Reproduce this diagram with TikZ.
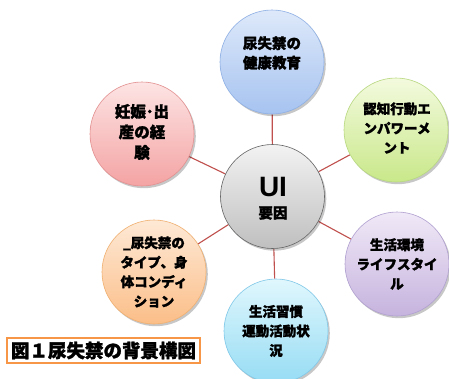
\documentclass[tikz,border=0pt]{standalone}
\usepackage{fontspec}
\setmainfont{Noto Sans CJK JP}[BoldFeatures={FakeBold=1.6}]
\newfontfamily\uifont{Liberation Sans}
\usetikzlibrary{shadows,backgrounds}
\definecolor{linkred}{HTML}{C0504D}
\definecolor{capor}{HTML}{F79646}
\begin{document}
\begin{tikzpicture}[x=1pt,y=-1pt,
  bubble/.style={circle,minimum size=104pt,inner sep=0pt,line width=0.6pt,
    drop shadow={shadow xshift=1.8pt,shadow yshift=-2.2pt,fill=black,opacity=0.22}},
  btext/.style={font=\fontsize{13.5}{19.5}\selectfont\bfseries,align=center,text=black,inner sep=0pt},
  link/.style={draw=linkred,line width=1.1pt}]
\useasboundingbox (0,0) rectangle (449,378);
% circles
\node[bubble,top color=white!60!gray!25,bottom color=black!25,draw=black!60] (c) at (272.5,196.5) {};
\node[bubble,top color={rgb,255:red,222;green,233;blue,250},bottom color={rgb,255:red,166;green,195;blue,240},draw={rgb,255:red,143;green,176;blue,228}] (top) at (272,62) {};
\node[bubble,top color={rgb,255:red,243;green,250;blue,222},bottom color={rgb,255:red,201;green,232;blue,138},draw={rgb,255:red,184;green,216;blue,128}] (rt) at (396,130) {};
\node[bubble,top color={rgb,255:red,253;green,228;blue,228},bottom color={rgb,255:red,244;green,163;blue,163},draw={rgb,255:red,227;green,144;blue,144}] (lt) at (142,134) {};
\node[bubble,top color={rgb,255:red,254;green,233;blue,214},bottom color={rgb,255:red,251;green,190;blue,136},draw={rgb,255:red,240;green,176;blue,112}] (lb) at (154,272) {};
\node[bubble,top color={rgb,255:red,240;green,233;blue,247},bottom color={rgb,255:red,198;green,179;blue,222},draw={rgb,255:red,176;green,160;blue,208}] (rb) at (397,264) {};
\node[bubble,top color={rgb,255:red,224;green,247;blue,253},bottom color={rgb,255:red,150;green,220;blue,244},draw={rgb,255:red,128;green,200;blue,232}] (bt) at (276,331) {};
% connectors
\begin{scope}[on background layer]
  \fill[white] (0,0) rectangle (449,378);
  \draw[link] (top) -- (c);
  \draw[link] (rt) -- (c);
  \draw[link] (lt) -- (c);
  \draw[link] (lb) -- (c);
  \draw[link] (rb) -- (c);
  \draw[link] (bt) -- (c);
\end{scope}
% texts
\node[btext,font=\fontsize{14.5}{19.5}\selectfont\bfseries] (ttop) at (272,53) {尿失禁の\\健康教育};
\node[btext] (trt) at (397,128) {認知行動エ\\ンパワーメ\\ント};
\node[btext,font=\fontsize{15.5}{20.5}\selectfont\bfseries] (tlt) at (142,132) {妊娠･出\\産の経\\験};
\node[btext] (tlb) at (154,272) {\_尿失禁の\\タイプ、身\\体コンディ\\ション};
\node[btext] (trb) at (397,264) {生活環境\\ライフスタイ\\ル};
\node[btext] (tbt) at (276,331) {生活習慣\\運動活動状\\況};
\node[inner sep=0pt,font=\uifont\bfseries\fontsize{28}{28}\selectfont] (tui) at (273,187) {UI};
\node[btext,font=\fontsize{14.5}{16}\selectfont\bfseries] (tyo) at (273,213) {要因};
% caption
\node[draw=capor,line width=1.1pt,fill=white,minimum width=193pt,minimum height=25pt,inner sep=0pt,font=\fontsize{18.5}{20}\selectfont\bfseries] (cap) at (103.5,350.5) {図１尿失禁の背景構図};
\end{tikzpicture}
\end{document}
